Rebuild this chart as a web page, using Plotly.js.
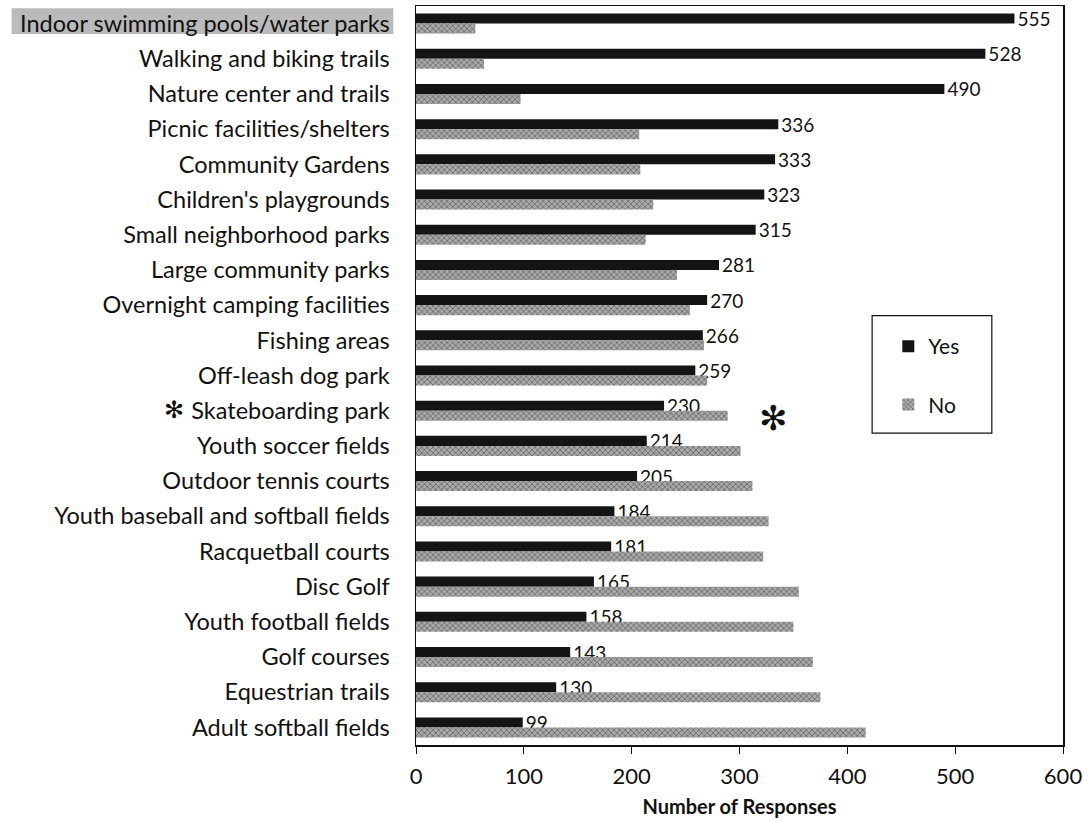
<!DOCTYPE html>
<html>
<head>
<meta charset="utf-8">
<script src="https://cdn.plot.ly/plotly-3.0.1.min.js"></script>
<style>html,body{margin:0;padding:0;background:#fff;}#chart{width:1092px;height:821px;}</style>
</head>
<body>
<div id="chart"></div>
<script>
const categories = [
  "Indoor swimming pools/water parks",
  "Walking and biking trails",
  "Nature center and trails",
  "Picnic facilities/shelters",
  "Community Gardens",
  "Children's playgrounds",
  "Small neighborhood parks",
  "Large community parks",
  "Overnight camping facilities",
  "Fishing areas",
  "Off-leash dog park",
  "Skateboarding park",
  "Youth soccer fields",
  "Outdoor tennis courts",
  "Youth baseball and softball fields",
  "Racquetball courts",
  "Disc Golf",
  "Youth football fields",
  "Golf courses",
  "Equestrian trails",
  "Adult softball fields"
];
const yesValues = [555,528,490,336,333,323,315,281,270,266,259,230,214,205,184,181,165,158,143,130,99];
const noValues  = [55,63,97,207,208,220,213,242,254,267,270,289,301,312,327,322,355,350,368,375,417];
const xTicks = [0,100,200,300,400,500,600];

const FONT = "Lato, 'Liberation Sans', sans-serif";

const traces = [
  {
    type: "bar", orientation: "h", name: "Yes", legendgroup: "yes",
    y: categories, x: yesValues,
    marker: {color: "#141414"},
    text: yesValues.map(String), textposition: "outside", cliponaxis: false,
    constraintext: "none",
    textfont: {family: FONT, size: 19, color: "#111"}
  },
  {
    type: "bar", orientation: "h", name: "No", legendgroup: "no",
    y: categories, x: noValues,
    marker: {color: "#8f8f8f", pattern: {shape: "x", fgcolor: "#5a5a5a", bgcolor: "#a8a8a8", size: 4, solidity: 0.3}},
    hoverinfo: "x+y"
  }
];

const layout = {
  width: 1092, height: 821,
  margin: {l: 416, r: 29, t: 6, b: 76},
  paper_bgcolor: "#fff", plot_bgcolor: "#fff",
  barmode: "group", bargap: 0.43, bargroupgap: 0,
  font: {family: FONT, color: "#111"},
  xaxis: {
    range: [0, 600], tickvals: xTicks, ticktext: xTicks.map(String),
    showgrid: false, zeroline: false,
    showline: true, linecolor: "#111", linewidth: 1.5, mirror: true,
    ticks: "outside", ticklen: 7, tickcolor: "#111", ticklabelstandoff: 4,
    tickfont: {family: FONT, size: 22, color: "#111"},
    title: {text: "<b>Number of Responses</b>", font: {family: FONT, size: 20, color: "#111"}, standoff: 12}
  },
  yaxis: {
    autorange: "reversed", showgrid: false, zeroline: false,
    showline: true, linecolor: "#111", linewidth: 1.5, mirror: true,
    ticks: "", tickfont: {family: FONT, size: 23.5, color: "#111"}, ticklabelstandoff: 20
  },
  showlegend: true,
  legend: {
    x: 0.73, y: 0.567, xanchor: "left", yanchor: "top",
    bgcolor: "rgba(0,0,0,0)", borderwidth: 0,
    font: {family: FONT, size: 21, color: "#111"},
    traceorder: "grouped", tracegroupgap: 28, itemwidth: 30
  },
  shapes: [
    {type: "rect", xref: "paper", yref: "paper", x0: 0.705, x1: 0.89, y0: 0.422, y1: 0.581,
     line: {color: "#111", width: 1.2}, fillcolor: "rgba(0,0,0,0)"},
    {type: "rect", xref: "paper", yref: "paper", x0: -0.625, x1: -0.035, y0: 0.962, y1: 0.997,
     line: {width: 0}, fillcolor: "rgba(130,130,130,0.55)", layer: "below"}
  ],
  annotations: [
    {xref: "paper", yref: "paper", x: -0.393, y: 0.455, text: "✻", showarrow: false,
     font: {size: 24, color: "#111"}},
    {xref: "x", yref: "paper", x: 331, y: 0.445, text: "✻", showarrow: false,
     font: {size: 34, color: "#111"}}
  ]
};

Plotly.newPlot("chart", traces, layout, {displayModeBar: false, staticPlot: true});
</script>
</body>
</html>
